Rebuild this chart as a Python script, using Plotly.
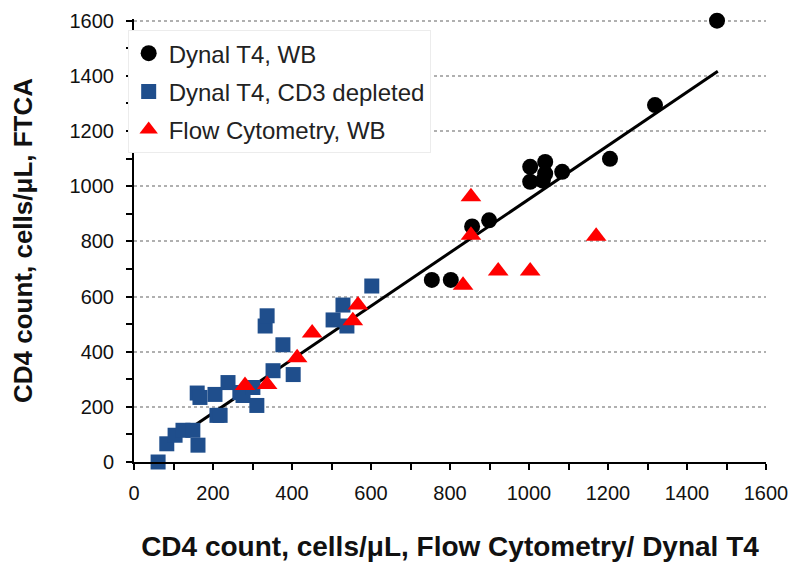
import plotly.graph_objects as go

# Dynal T4, whole blood (black circles)
wb_x = [754, 802, 856, 899, 1003, 1003, 1035, 1041, 1041, 1084, 1205, 1319, 1476]
wb_y = [660, 660, 854, 876, 1016, 1070, 1020, 1045, 1088, 1052, 1099, 1294, 1600]

# Dynal T4, CD3 depleted (blue squares)
cd3_x = [61, 83, 104, 124, 149, 162, 160, 167, 205, 210, 218, 238, 268, 276,
         301, 311, 332, 337, 352, 377, 403, 504, 529, 539, 602]
cd3_y = [0, 66, 97, 115, 115, 61, 250, 234, 245, 169, 169, 288, 252, 241,
         270, 205, 493, 530, 331, 425, 317, 515, 569, 493, 638]

# Flow cytometry, whole blood (red triangles)
fc_x = [281, 337, 413, 451, 554, 567, 833, 853, 853, 922, 1003, 1170]
fc_y = [277, 281, 378, 468, 512, 569, 641, 822, 962, 692, 692, 818]

# Regression line
fit_slope = 0.969
fit_intercept = -16
fit_x = [154, 1478]
fit_y = [fit_slope * v + fit_intercept for v in fit_x]

x_ticks = list(range(0, 1601, 200))
y_ticks = list(range(0, 1601, 200))

FONT = "Liberation Sans, Arial, sans-serif"

fig = go.Figure()
fig.add_trace(go.Scatter(x=fit_x, y=fit_y, mode="lines",
                         line=dict(color="black", width=3), showlegend=False))
fig.add_trace(go.Scatter(x=cd3_x, y=cd3_y, mode="markers", name="Dynal T4, CD3 depleted",
                         legendgroup="b", legendrank=2, cliponaxis=False,
                         marker=dict(symbol="square", size=15, color="#1F4E8C")))
fig.add_trace(go.Scatter(x=wb_x, y=wb_y, mode="markers", name="Dynal T4, WB",
                         legendgroup="a", legendrank=1, cliponaxis=False,
                         marker=dict(symbol="circle", size=16, color="black")))
fig.add_trace(go.Scatter(x=fc_x, y=fc_y, mode="markers", name="Flow Cytometry, WB",
                         legendgroup="c", legendrank=3, cliponaxis=False,
                         marker=dict(symbol="triangle-up", size=18, color="#FF0000")))

axis_common = dict(
    showline=True, linecolor="black", linewidth=2,
    ticks="outside", ticklen=6, tickwidth=2, tickcolor="black",
    tickfont=dict(family=FONT, size=20, color="#111111"),
    zeroline=False, automargin=False, ticklabeloverflow="allow",
    minor=dict(dtick=100, ticks="outside", ticklen=6, tickwidth=2, tickcolor="black", showgrid=False),
)

fig.update_xaxes(**axis_common, tickvals=x_ticks, showgrid=False, ticklabelstandoff=6,
                 range=[0, 1600],
                 title=dict(text="CD4 count, cells/μL, Flow Cytometry/ Dynal T4",
                            font=dict(family=FONT, size=28, color="#111111", weight="bold"),
                            standoff=33))
fig.update_yaxes(**axis_common, tickvals=y_ticks, showgrid=True, ticklabelstandoff=8,
                 range=[0, 1606],
                 gridcolor="#b0b0b0", griddash="dot", gridwidth=1.5,
                 title=dict(text="CD4 count, cells/μL, FTCA",
                            font=dict(family=FONT, size=26, color="#111111", weight="bold"),
                            standoff=32))

fig.update_layout(
    width=800, height=572,
    margin=dict(l=126, r=42, t=11, b=118),
    paper_bgcolor="white", plot_bgcolor="white",
    font=dict(family=FONT, color="#111111"),
    legend=dict(x=-0.01, y=0.975, xanchor="left", yanchor="top",
                bgcolor="white", bordercolor="#ececec", borderwidth=1,
                font=dict(family=FONT, size=24, color="#222222"),
                traceorder="grouped", tracegroupgap=4),
)

fig.write_html("out.html")
